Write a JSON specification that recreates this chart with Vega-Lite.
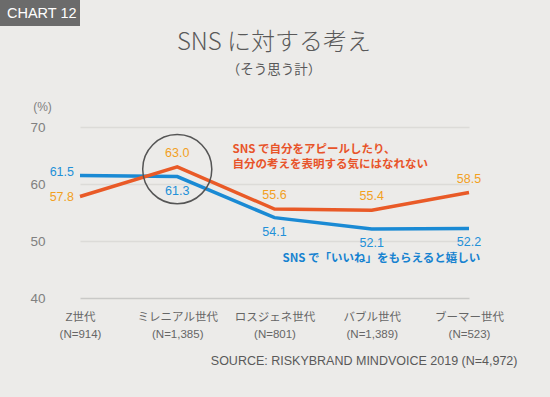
{
  "$schema": "https://vega.github.io/schema/vega-lite/v6.json",
  "width": 468,
  "height": 171,
  "autosize": {"type": "none"},
  "padding": {"left": 50, "top": 127, "right": 32, "bottom": 99},
  "background": "#ecebe9",
  "config": {
    "font": "Noto Sans CJK JP",
    "view": {"stroke": null}
  },
  "title": {
    "text": "SNS に対する考え",
    "subtitle": "（そう思う計）",
    "fontSize": 24,
    "fontWeight": 300,
    "color": "#595959",
    "subtitleFontSize": 13.5,
    "subtitleColor": "#595959",
    "subtitlePadding": 8,
    "anchor": "middle",
    "frame": "group",
    "dx": -10,
    "offset": -76
  },
  "datasets": {
    "main": [
      {"gen": "Z世代 (N=914)", "series": "いいね", "value": 61.5},
      {"gen": "ミレニアル世代 (N=1,385)", "series": "いいね", "value": 61.3},
      {"gen": "ロスジェネ世代 (N=801)", "series": "いいね", "value": 54.1},
      {"gen": "バブル世代 (N=1,389)", "series": "いいね", "value": 52.1},
      {"gen": "ブーマー世代 (N=523)", "series": "いいね", "value": 52.2},
      {"gen": "Z世代 (N=914)", "series": "アピール", "value": 57.8},
      {"gen": "ミレニアル世代 (N=1,385)", "series": "アピール", "value": 63.0},
      {"gen": "ロスジェネ世代 (N=801)", "series": "アピール", "value": 55.6},
      {"gen": "バブル世代 (N=1,389)", "series": "アピール", "value": 55.4},
      {"gen": "ブーマー世代 (N=523)", "series": "アピール", "value": 58.5}
    ]
  },
  "encoding": {
    "x": {
      "field": "gen",
      "type": "nominal",
      "scale": {
        "type": "point",
        "domain": ["Z世代 (N=914)", "ミレニアル世代 (N=1,385)", "ロスジェネ世代 (N=801)", "バブル世代 (N=1,389)", "ブーマー世代 (N=523)"],
        "range": [30, 419],
        "padding": 0
      },
      "axis": {
        "title": "SOURCE: RISKYBRAND MINDVOICE 2019 (N=4,972)",
        "titleX": 467,
        "titleY": 62,
        "titleAlign": "right",
        "titleBaseline": "middle",
        "titleFontSize": 12.5,
        "titleFontWeight": "normal",
        "titleColor": "#595959",
        "titleFont": "Liberation Sans",
        "labelAngle": 0,
        "labelExpr": "split(datum.label, ' ')",
        "labelFont": "Liberation Sans, Noto Sans CJK JP",
        "labelFontSize": 11.5,
        "labelColor": "#666666",
        "labelLineHeight": 17,
        "labelPadding": 13,
        "labelBaseline": "top",
        "domain": false,
        "ticks": false,
        "grid": false
      }
    },
    "y": {
      "field": "value",
      "type": "quantitative",
      "scale": {"domain": [40, 70], "nice": false, "zero": false},
      "axis": {
        "values": [40, 50, 60, 70],
        "title": "(%)",
        "titleAngle": 0,
        "titleX": -8,
        "titleY": -21,
        "titleAlign": "center",
        "titleBaseline": "middle",
        "titleFontSize": 12,
        "titleFontWeight": "normal",
        "titleColor": "#808080",
        "titleFont": "Liberation Sans",
        "labelFont": "Liberation Sans",
        "labelFontSize": 13.5,
        "labelColor": "#808080",
        "labelPadding": 5,
        "domain": false,
        "ticks": false,
        "gridColor": {"condition": {"test": "datum.value === 40", "value": "#c9c9c7"}, "value": "#dcdbd8"},
        "gridWidth": 1.6
      }
    }
  },
  "layer": [
    {
      "data": {"name": "main"},
      "transform": [{"filter": "datum.series === 'いいね'"}],
      "mark": {"type": "line", "color": "#1a8ad4", "strokeWidth": 3.5}
    },
    {
      "data": {"name": "main"},
      "transform": [{"filter": "datum.series === 'アピール'"}],
      "mark": {"type": "line", "color": "#e95a27", "strokeWidth": 3.5}
    },
    {
      "data": {"values": [{"gen": "ミレニアル世代 (N=1,385)", "value": 62.6}]},
      "mark": {"type": "point", "shape": "circle", "size": 4778, "filled": false, "stroke": "#555555", "strokeWidth": 1.5, "opacity": 1}
    },
    {
      "data": {"name": "main"},
      "transform": [{"filter": "datum.series === 'アピール' && datum.gen !== 'Z世代 (N=914)'"}],
      "mark": {"type": "text", "color": "#f2a01e", "fontSize": 12.5, "font": "Liberation Sans", "dy": -14, "align": "center", "baseline": "middle"},
      "encoding": {"text": {"field": "value", "type": "quantitative", "format": ".1f"}}
    },
    {
      "data": {"name": "main"},
      "transform": [{"filter": "datum.series === 'いいね' && datum.gen !== 'Z世代 (N=914)'"}],
      "mark": {"type": "text", "color": "#2290d8", "fontSize": 12.5, "font": "Liberation Sans", "dy": 14, "align": "center", "baseline": "middle"},
      "encoding": {"text": {"field": "value", "type": "quantitative", "format": ".1f"}}
    },
    {
      "data": {"name": "main"},
      "transform": [{"filter": "datum.series === 'アピール' && datum.gen === 'Z世代 (N=914)'"}],
      "mark": {"type": "text", "color": "#f2a01e", "fontSize": 12.5, "font": "Liberation Sans", "dx": -6, "dy": 0, "align": "right", "baseline": "middle"},
      "encoding": {"text": {"field": "value", "type": "quantitative", "format": ".1f"}}
    },
    {
      "data": {"name": "main"},
      "transform": [{"filter": "datum.series === 'いいね' && datum.gen === 'Z世代 (N=914)'"}],
      "mark": {"type": "text", "color": "#2290d8", "fontSize": 12.5, "font": "Liberation Sans", "dx": -6, "dy": -3, "align": "right", "baseline": "middle"},
      "encoding": {"text": {"field": "value", "type": "quantitative", "format": ".1f"}}
    },
    {
      "data": {"values": [
        {"gen": "ロスジェネ世代 (N=801)", "value": 66.0, "note": "SNS で自分をアピールしたり、"},
        {"gen": "ロスジェネ世代 (N=801)", "value": 63.35, "note": "自分の考えを表明する気にはなれない"}
      ]},
      "mark": {"type": "text", "color": "#e8542a", "fontSize": 11.5, "fontWeight": "bold", "dx": -42, "align": "left", "baseline": "middle"},
      "encoding": {"text": {"field": "note"}}
    },
    {
      "data": {"values": [
        {"gen": "ロスジェネ世代 (N=801)", "value": 46.8, "note": "SNS で「いいね」をもらえると嬉しい"}
      ]},
      "mark": {"type": "text", "color": "#1682d0", "fontSize": 11.5, "fontWeight": "bold", "dx": 8, "align": "left", "baseline": "middle"},
      "encoding": {"text": {"field": "note"}}
    },
    {
      "data": {"values": [{"badge": "CHART 12"}]},
      "mark": {"type": "rect", "color": "#6b6b6b"},
      "encoding": {"x": {"value": -50}, "x2": {"value": 30}, "y": {"value": -127}, "y2": {"value": -101}}
    },
    {
      "data": {"values": [{"badge": "CHART 12"}]},
      "mark": {"type": "text", "color": "#ffffff", "fontSize": 14.5, "font": "Liberation Sans", "align": "left", "baseline": "middle"},
      "encoding": {"x": {"value": -43}, "y": {"value": -113.5}, "text": {"field": "badge"}}
    }
  ]
}
